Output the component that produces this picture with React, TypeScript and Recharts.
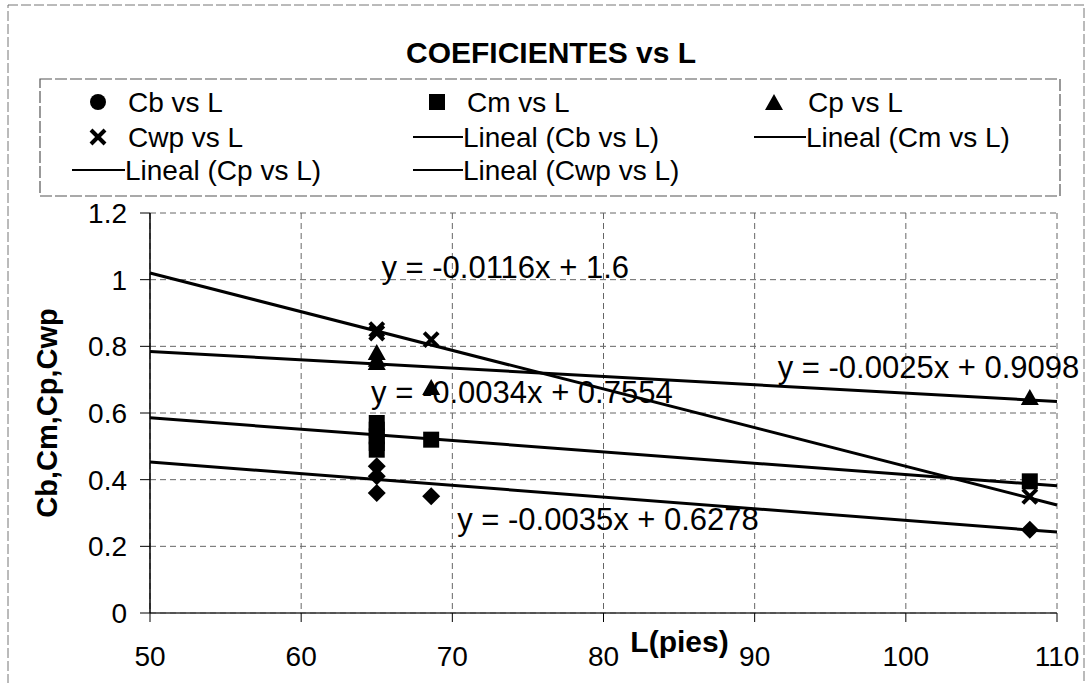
import React from 'react';
import { ScatterChart, Scatter, XAxis, YAxis, CartesianGrid, ReferenceLine, ReferenceDot } from 'recharts';

const FONT = '"Liberation Sans", Arial, sans-serif';

const xTicks = [50, 60, 70, 80, 90, 100, 110];
const yTicks = [0, 0.2, 0.4, 0.6, 0.8, 1, 1.2];

const cbData = [
  { x: 65, y: 0.44 }, { x: 65, y: 0.41 }, { x: 65, y: 0.36 },
  { x: 68.6, y: 0.35 }, { x: 108.2, y: 0.25 },
];
const cmData = [
  { x: 65, y: 0.57 }, { x: 65, y: 0.55 }, { x: 65, y: 0.53 }, { x: 65, y: 0.51 }, { x: 65, y: 0.49 },
  { x: 68.6, y: 0.52 }, { x: 108.2, y: 0.395 },
];
const cpData = [
  { x: 65, y: 0.78 }, { x: 65, y: 0.76 }, { x: 65, y: 0.75 },
  { x: 68.6, y: 0.675 }, { x: 108.2, y: 0.645 },
];
const cwpData = [
  { x: 65, y: 0.85 }, { x: 65, y: 0.84 },
  { x: 68.6, y: 0.82 }, { x: 108.2, y: 0.35 },
];

const trendSlopes = [-0.0035, -0.0034, -0.0025, -0.0116];
const trendIntercepts = [0.6278, 0.7554, 0.9098, 1.6];
const trendLabels = ['y = -0.0035x + 0.6278', 'y = -0.0034x + 0.7554', 'y = -0.0025x + 0.9098', 'y = -0.0116x + 1.6'];
const labelAnchors = [
  { x: 80.3, y: 0.249 },
  { x: 74.6, y: 0.63 },
  { x: 101.5, y: 0.705 },
  { x: 73.5, y: 1.005 },
];

const X0 = 50;
const X1 = 110;

const Diamond = ({ cx, cy }: any) => (
  <polygon points={`${cx},${cy - 9} ${cx + 9},${cy} ${cx},${cy + 9} ${cx - 9},${cy}`} fill="#000" />
);
const Square = ({ cx, cy }: any) => <rect x={cx - 8} y={cy - 8} width={16} height={16} fill="#000" />;
const Triangle = ({ cx, cy }: any) => (
  <polygon points={`${cx},${cy - 9} ${cx + 9},${cy + 7} ${cx - 9},${cy + 7}`} fill="#000" />
);
const Cross = ({ cx, cy }: any) => (
  <g stroke="#000" strokeWidth={4}>
    <line x1={cx - 7} y1={cy - 7} x2={cx + 7} y2={cy + 7} />
    <line x1={cx - 7} y1={cy + 7} x2={cx + 7} y2={cy - 7} />
  </g>
);

const XTick = ({ x, y, payload }: any) => (
  <text x={x} y={y + 42} textAnchor="middle" fontSize={28} fontFamily={FONT} fill="#000">
    {payload.value}
  </text>
);
const YTick = ({ x, y, payload }: any) => (
  <text x={x - 11} y={y} dy="0.36em" textAnchor="end" fontSize={28} fontFamily={FONT} fill="#000">
    {payload.value}
  </text>
);

const legendText = { fontSize: 28, fontFamily: FONT, fill: '#000' } as const;

export default function App() {
  return (
    <div style={{ position: 'fixed', left: 0, top: 0, width: 1088, height: 683, background: '#fff', overflow: 'hidden' }}>
      <svg width={1088} height={683} style={{ position: 'absolute', left: 0, top: 0 }}>
        <rect x={8} y={5} width={1076} height={700} fill="none" stroke="#777" strokeWidth={1} strokeDasharray="10 3" />
        <text x={551} y={63} textAnchor="middle" fontSize={30} fontWeight="bold" fontFamily={FONT} fill="#000">
          COEFICIENTES vs L
        </text>
        <rect x={40} y={79} width={1020} height={117} fill="none" stroke="#555" strokeWidth={1.2} strokeDasharray="12 3" />
        {/* row 1 */}
        <circle cx={98} cy={102} r={8} fill="#000" />
        <text x={128} y={112} {...legendText}>Cb vs L</text>
        <Square cx={437} cy={102} />
        <text x={467} y={112} {...legendText}>Cm vs L</text>
        <Triangle cx={774} cy={103} />
        <text x={808} y={112} {...legendText}>Cp vs L</text>
        {/* row 2 */}
        <Cross cx={98} cy={137} />
        <text x={128} y={147} {...legendText}>Cwp vs L</text>
        <line x1={413} y1={137} x2={463} y2={137} stroke="#000" strokeWidth={2} />
        <text x={463} y={147} {...legendText}>Lineal (Cb vs L)</text>
        <line x1={754} y1={137} x2={806} y2={137} stroke="#000" strokeWidth={2} />
        <text x={806} y={147} {...legendText}>Lineal (Cm vs L)</text>
        {/* row 3 */}
        <line x1={72} y1={170} x2={125} y2={170} stroke="#000" strokeWidth={2} />
        <text x={125} y={180} {...legendText}>Lineal (Cp vs L)</text>
        <line x1={413} y1={170} x2={463} y2={170} stroke="#000" strokeWidth={2} />
        <text x={463} y={180} {...legendText}>Lineal (Cwp vs L)</text>
      </svg>
      <div style={{ position: 'absolute', left: 0, top: 0 }}>
        <ScatterChart width={1088} height={683} margin={{ top: 213, right: 31, bottom: 30, left: 90 }}>
          <CartesianGrid stroke="#666" strokeDasharray="6 4" strokeWidth={1} />
          <XAxis
            type="number"
            dataKey="x"
            domain={[X0, X1]}
            ticks={xTicks}
            allowDataOverflow
            height={40}
            tickSize={9}
            tick={<XTick />}
            axisLine={{ stroke: '#333', strokeWidth: 1.5 }}
            tickLine={{ stroke: '#000' }}
            label={{
              content: ({ viewBox }: any) => (
                <text x={viewBox.x + viewBox.width / 2 + 76} y={viewBox.y + 39} textAnchor="middle" fontSize={30} fontWeight="bold" fontFamily={FONT} fill="#000">
                  L(pies)
                </text>
              ),
            }}
          />
          <YAxis
            type="number"
            dataKey="y"
            domain={[0, 1.2]}
            ticks={yTicks}
            allowDataOverflow
            width={60}
            tickSize={10}
            tick={<YTick />}
            axisLine={{ stroke: '#000', strokeWidth: 1.5 }}
            tickLine={{ stroke: '#000' }}
            label={{
              content: ({ viewBox }: any) => {
                const cx = viewBox.x - 43;
                const cy = viewBox.y + viewBox.height / 2;
                return (
                  <text x={cx} y={cy} transform={`rotate(-90 ${cx} ${cy})`} textAnchor="middle" dominantBaseline="central" fontSize={29} fontWeight="bold" fontFamily={FONT} fill="#000">
                    Cb,Cm,Cp,Cwp
                  </text>
                );
              },
            }}
          />
          {trendSlopes.map((m, i) => (
            <ReferenceLine
              key={`t${i}`}
              segment={[
                { x: X0, y: m * X0 + trendIntercepts[i] },
                { x: X1, y: m * X1 + trendIntercepts[i] },
              ]}
              stroke="#000"
              strokeWidth={3}
              ifOverflow="visible"
            />
          ))}
          <Scatter name="Cb vs L" data={cbData} isAnimationActive={false} shape={(p: any) => <Diamond cx={p.cx} cy={p.cy} />} />
          <Scatter name="Cm vs L" data={cmData} isAnimationActive={false} shape={(p: any) => <Square cx={p.cx} cy={p.cy} />} />
          <Scatter name="Cp vs L" data={cpData} isAnimationActive={false} shape={(p: any) => <Triangle cx={p.cx} cy={p.cy} />} />
          <Scatter name="Cwp vs L" data={cwpData} isAnimationActive={false} shape={(p: any) => <Cross cx={p.cx} cy={p.cy} />} />
          {labelAnchors.map((a, i) => (
            <ReferenceDot
              key={`l${i}`}
              x={a.x}
              y={a.y}
              r={0}
              ifOverflow="visible"
              shape={(p: any) => (
                <text x={p.cx} y={p.cy} textAnchor="middle" fontSize={31} fontFamily={FONT} fill="#000">
                  {trendLabels[i]}
                </text>
              )}
            />
          ))}
        </ScatterChart>
      </div>
    </div>
  );
}
